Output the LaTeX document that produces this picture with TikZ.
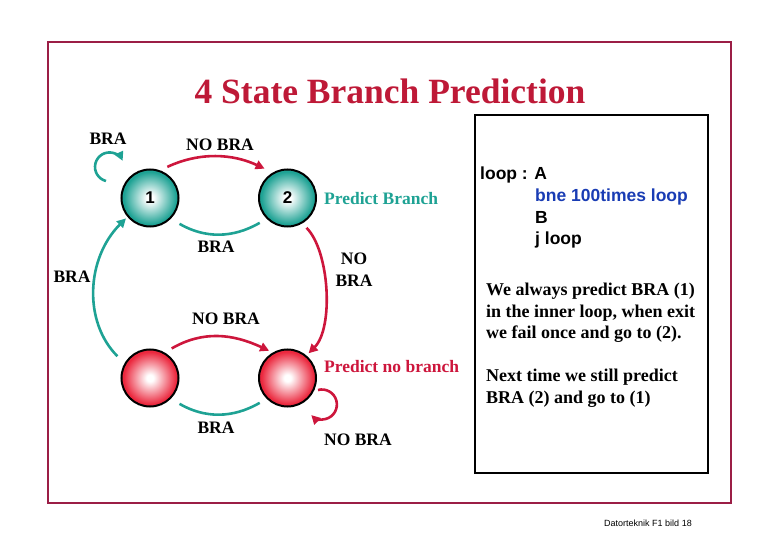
\documentclass[tikz,border=0pt]{standalone}
\usepackage{fontspec}
\setmainfont{Liberation Serif}
\setsansfont{Liberation Sans}
\usetikzlibrary{arrows.meta}
\definecolor{tealc}{RGB}{30,162,148}
\definecolor{redc}{RGB}{205,22,60}
\definecolor{redball}{RGB}{235,40,62}
\definecolor{titlec}{RGB}{190,25,55}
\definecolor{framec}{RGB}{155,30,70}
\definecolor{bluec}{RGB}{25,60,180}
\pgfdeclareradialshading{tealshade}{\pgfpoint{0bp}{0bp}}{color(0bp)=(white); color(3bp)=(white); color(23bp)=(tealc); color(25bp)=(tealc); color(50bp)=(tealc)}
\pgfdeclareradialshading{redshade}{\pgfpoint{0bp}{0bp}}{color(0bp)=(white); color(3bp)=(white); color(23bp)=(redball); color(25bp)=(redball); color(50bp)=(redball)}
\tikzset{
  state/.style={circle, draw=black, line width=2pt, minimum size=57pt, inner sep=0pt,
    font=\sffamily\bfseries\fontsize{17}{17}\selectfont},
  gstate/.style={state, shading=tealshade},
  rstate/.style={state, shading=redshade},
  lbl/.style={font=\bfseries\fontsize{17.5}{21.5}\selectfont, inner sep=0pt},
  tline/.style={draw=tealc, line width=2.6pt},
  tarr/.style={tline, -{Triangle[length=9pt,width=9pt]}},
  rline/.style={draw=redc, line width=2.6pt},
  rarr/.style={rline, -{Triangle[length=9pt,width=9pt]}},
  code/.style={font=\sffamily\bfseries\fontsize{17.5}{21.7}\selectfont, inner sep=0pt, align=left},
  para/.style={font=\bfseries\fontsize{18}{21.5}\selectfont, inner sep=0pt, align=left}
}
\begin{document}
\begin{tikzpicture}[x=1pt,y=1pt]
\useasboundingbox (0,0) rectangle (780,-540);
% frame
\draw[framec, line width=2pt] (48,-42) rectangle (731,-503);
% title
\node[font=\bfseries\fontsize{35.5}{40}\selectfont, text=titlec, inner sep=0pt, anchor=base] (title) at (390,-104) {4 State Branch Prediction};
% states
\node[gstate] (c1) at (150,-198) {1};
\node[gstate] (c2) at (287.5,-198) {2};
\node[rstate] (c3) at (150,-378) {};
\node[rstate] (c4) at (287.5,-378) {};
% connectors
\draw[rarr, shorten <=8pt, shorten >=9pt] (c1.70) to[out=25, in=155, looseness=1] (c2.120);
\draw[tline, shorten <=8pt, shorten >=10pt] (c2.-135) to[out=-150, in=-30, looseness=1.05] (c1.-45);
\draw[tarr, shorten <=10pt, shorten >=2pt] (c3.150) to[out=135, in=-135, looseness=1.02] (c1.-140);
\draw[rarr, shorten <=6pt, shorten >=3pt] (c2.-60) to[out=-45, in=45, looseness=0.75] (c4.50);
\draw[rarr, shorten <=8pt, shorten >=4pt] (c3.60) to[out=30, in=155, looseness=1.05] (c4.120);
\draw[tline, shorten <=8pt, shorten >=10pt] (c4.-135) to[out=-150, in=-30, looseness=1.05] (c3.-45);
\draw[tarr] ([shift={(-44,17)}]c1.center) arc[start angle=-104, end angle=-335, radius=14.5];
\draw[rarr] ([shift={(30.5,-12)}]c4.center) arc[start angle=105, end angle=-135, radius=15];
% labels
\node[lbl, anchor=base] (l1) at (108,-145) {BRA};
\node[lbl, anchor=base] (l2) at (220,-151) {NO BRA};
\node[lbl, anchor=base west, text=tealc] (l3) at (324,-205) {Predict Branch};
\node[lbl, anchor=base] (l4) at (216,-253) {BRA};
\node[lbl, anchor=north, align=center] (l5) at (354,-253) {NO\\BRA};
\node[lbl, anchor=base] (l6) at (72,-283) {BRA};
\node[lbl, anchor=base] (l7) at (226,-325) {NO BRA};
\node[lbl, anchor=base west, text=redc] (l8) at (324,-373) {Predict no branch};
\node[lbl, anchor=base] (l9) at (216,-433) {BRA};
\node[lbl, anchor=base west] (l10) at (324,-445) {NO BRA};
% box
\draw[black, line width=2pt] (475,-115) rectangle (708,-473);
\node[code, anchor=north west] (code) at (480,-167) {loop : A\\\hspace*{55pt}\textcolor{bluec}{bne 100times loop}\\\hspace*{55pt}B\\\hspace*{55pt}j loop};
\node[para, anchor=north west] (txt) at (486,-283) {We always predict BRA (1)\\in the inner loop, when exit\\we fail once and go to (2).\\[21.5pt]Next time we still predict\\BRA (2) and go to (1)};
% footer
\node[font=\sffamily\fontsize{9}{9}\selectfont, inner sep=0pt] (foot) at (648,-523) {Datorteknik F1 bild 18};
\end{tikzpicture}
\end{document}
